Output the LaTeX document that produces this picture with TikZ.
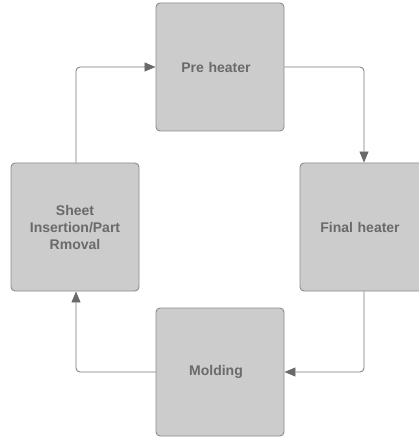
\documentclass[tikz,border=0pt]{standalone}
\usepackage{fontspec}
\setmainfont{Liberation Sans}
\usetikzlibrary{arrows.meta}
\definecolor{boxfill}{HTML}{CCCCCC}
\definecolor{boxline}{HTML}{8C8C8C}
\definecolor{txt}{HTML}{6A6A6A}
\definecolor{conn}{HTML}{7A7A7A}
\begin{document}
\begin{tikzpicture}[x=1pt,y=-1pt,
  stage/.style={draw=boxline, fill=boxfill, line width=0.9pt, rounded corners=4pt,
    minimum width=128pt, minimum height=128pt, inner sep=0pt,
    text=txt, font=\bfseries\fontsize{14}{17}\selectfont, align=center, text width=118pt},
  flow/.style={draw=conn, line width=0.8pt, rounded corners=4pt,
    -{Triangle[length=11pt,width=9pt,fill=txt,color=txt]}}]
\useasboundingbox (0,0) rectangle (419,438);
\begin{scope}
\clip (0,0) rectangle (419,438);
\node[stage] (pre) at (220,67) {Pre heater\hspace*{8pt}};
\node[stage] (fin) at (364,227) {Final heater\hspace*{8pt}};
\node[stage] (mol) at (220,372) {Molding\hspace*{8pt}};
\node[stage] (sht) at (75,227) {Sheet\\Insertion/Part\\Rmoval};
\end{scope}
\draw[flow] (sht.north -| 76,0) |- (pre.west);
\draw[flow] (pre.east) -| (fin.north);
\draw[flow] (fin.south) |- (mol.east);
\draw[flow] (mol.west) -| (sht.south -| 76,0);
\end{tikzpicture}
\end{document}
